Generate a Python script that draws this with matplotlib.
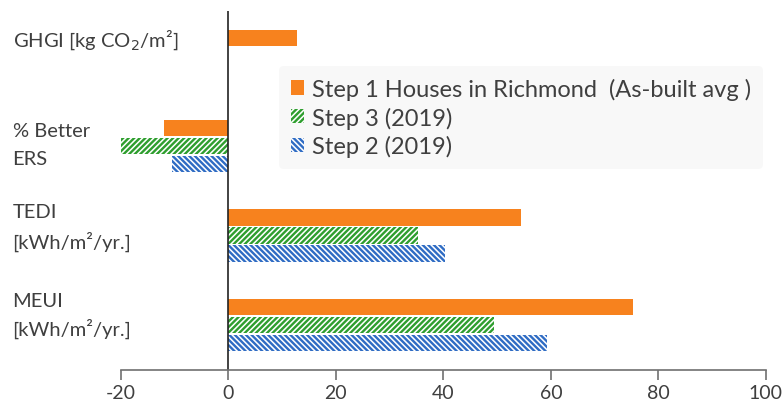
import matplotlib.pyplot as plt
import matplotlib.transforms as mtransforms
import numpy as np

plt.rcParams['font.family'] = ['Lato', 'DejaVu Sans']
plt.rcParams['hatch.linewidth'] = 1.7
plt.rcParams['axes.unicode_minus'] = False

metric_lines = [['GHGI [kg CO$_2$/m²]'], ['% Better', 'ERS'],
                ['TEDI', '[kWh/m²/yr.]'], ['MEUI', '[kWh/m²/yr.]']]
step1_richmond = [12.7, -12.0, 54.5, 75.3]
step3_2019 = [np.nan, -20.5, 35.3, 49.4]
step2_2019 = [np.nan, -10.5, 40.3, 59.3]
series_names = ['Step 1 Houses in Richmond  (As-built avg )',
                'Step 3 (2019)', 'Step 2 (2019)']

orange = '#F7821E'
green = '#2E9E2E'
blue = '#2F6CC4'
text_col = '#3F3F3F'

fig = plt.figure(figsize=(7.83, 4.06), dpi=100)
ax = fig.add_axes([0.1545, 0.086, 0.8235, 0.884])

y = np.arange(len(metric_lines))
h = 0.18
ax.barh(y - 0.2, step1_richmond, height=h, color=orange, label=series_names[0])
ax.barh(y, step3_2019, height=h, facecolor='white', edgecolor=green,
        hatch='//////', linewidth=0, label=series_names[1])
ax.barh(y + 0.2, step2_2019, height=h, facecolor='white', edgecolor=blue,
        hatch='\\\\\\\\\\\\', linewidth=0, label=series_names[2])

ax.axvline(0, color='#222222', lw=1.2)

ax.set_xlim(-20, 100)
ax.set_ylim(3.5, -0.5)
ax.set_xticks(np.arange(-20, 101, 20))
ax.tick_params(axis='x', colors='#707070', labelcolor=text_col, labelsize=14,
               length=7, width=1.2, pad=3)
ax.set_yticks([])
for s in ['top', 'right', 'left']:
    ax.spines[s].set_visible(False)
ax.spines['bottom'].set_color('#707070')
ax.spines['bottom'].set_linewidth(1.2)

# category labels, left aligned at the figure edge, one text per line
trans = mtransforms.blended_transform_factory(fig.transFigure, ax.transData)
line_offsets = [[-0.19], [-0.17, 0.14], [-0.27, 0.06], [-0.27, 0.03]]
for i, lines in enumerate(metric_lines):
    for txt, off in zip(lines, line_offsets[i]):
        fig.text(0.016, i + off, txt, transform=trans, ha='left', va='center',
                 fontsize=14.5, color=text_col)

leg = ax.legend(loc='upper left', bbox_to_anchor=(0.227, 0.88), frameon=True,
                fontsize=17, handlelength=0.55, handleheight=0.55,
                handletextpad=0.35, labelspacing=0.28, borderpad=0.5)
leg.get_frame().set_facecolor('#F7F7F7')
leg.get_frame().set_edgecolor('none')
for t in leg.get_texts():
    t.set_color(text_col)

fig.savefig('out.png', dpi=100)
